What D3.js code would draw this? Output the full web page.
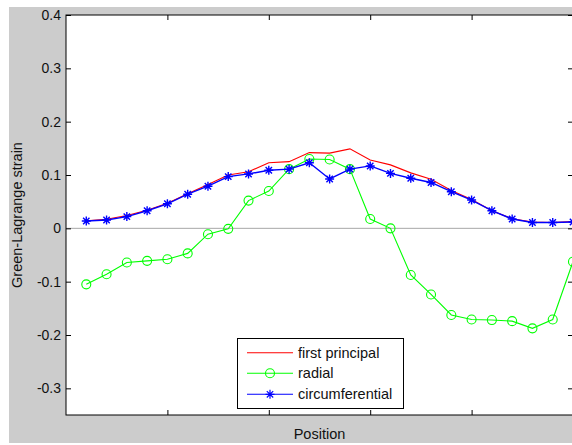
<!DOCTYPE html>
<html><head><meta charset="utf-8">
<script src="https://cdn.jsdelivr.net/npm/d3@7"></script>
<style>body{margin:0;background:#fff}text{font-family:"Liberation Sans",Arial,sans-serif}</style>
</head><body><svg id="c" width="572" height="445"></svg>
<script>
const positions = d3.range(1, 26);
const firstPrincipal = [0.014,0.017,0.024,0.034,0.047,0.065,0.082,0.100,0.106,0.123,0.125,0.142,0.141,0.149,0.128,0.119,0.104,0.092,0.071,0.054,0.033,0.018,0.012,0.011,0.013];
const radial = [-0.105,-0.086,-0.064,-0.061,-0.058,-0.047,-0.011,-0.001,0.052,0.070,0.111,0.130,0.129,0.111,0.0175,0.0,-0.0875,-0.124,-0.1625,-0.171,-0.172,-0.174,-0.1875,-0.171,-0.0625];
const circumferential = [0.0137,0.0156,0.022,0.033,0.046,0.064,0.079,0.097,0.102,0.109,0.111,0.123,0.0925,0.111,0.117,0.103,0.094,0.086,0.0687,0.053,0.033,0.0175,0.011,0.011,0.012];
const yTicks = [-0.3,-0.2,-0.1,0,0.1,0.2,0.3,0.4];
const yTickLabels = ["-0.3","-0.2","-0.1","0","0.1","0.2","0.3","0.4"];
const xTicks = [5,10,15,20];
const seriesNames = ["first principal","radial","circumferential"];
const seriesColors = ["#ff0000","#00ff00","#0000ff"];

const svg = d3.select("#c");
const L=66, R=573, T=15, B=415;
const x = d3.scaleLinear().domain([0,25]).range([L,R]);
const y = d3.scaleLinear().domain([-0.35,0.4]).range([B,T]);

svg.append("rect").attr("x",9).attr("y",7).attr("width",563).attr("height",436).attr("fill","#cccccc");
svg.append("rect").attr("x",L).attr("y",T).attr("width",R-L).attr("height",B-T).attr("fill","#fff");

// zero line
svg.append("line").attr("x1",x(0)).attr("x2",x(25)).attr("y1",y(0)).attr("y2",y(0)).attr("stroke","#a8a8a8").attr("stroke-width",1);

const line = d3.line().x((d,i)=>x(positions[i])).y(d=>y(d));
const starPath = "M-4.5,0L4.5,0M0,-4.5L0,4.5M-3.2,-3.2L3.2,3.2M-3.2,3.2L3.2,-3.2";

svg.append("path").datum(firstPrincipal).attr("d",line).attr("fill","none").attr("stroke",seriesColors[0]).attr("stroke-width",1.1);
svg.append("path").datum(radial).attr("d",line).attr("fill","none").attr("stroke",seriesColors[1]).attr("stroke-width",1.1);
svg.selectAll(".circ").data(radial).enter().append("circle").attr("cx",(d,i)=>x(positions[i])).attr("cy",d=>y(d)).attr("r",4.5).attr("fill","none").attr("stroke",seriesColors[1]).attr("stroke-width",1.1);
svg.append("path").datum(circumferential).attr("d",line).attr("fill","none").attr("stroke",seriesColors[2]).attr("stroke-width",1.4);
svg.selectAll(".star").data(circumferential).enter().append("path").attr("transform",(d,i)=>`translate(${x(positions[i])},${y(d)})`).attr("d",starPath).attr("stroke",seriesColors[2]).attr("stroke-width",1.4).attr("fill","none");

// axes
const ax = svg.append("g").attr("transform",`translate(${L},0)`).call(d3.axisLeft(y).tickValues(yTicks).tickFormat((d,i)=>yTickLabels[i]).tickSizeInner(-5).tickSizeOuter(0).tickPadding(5));
const ar = svg.append("g").attr("transform",`translate(${R},0)`).call(d3.axisRight(y).tickValues(yTicks).tickFormat("").tickSizeInner(-5).tickSizeOuter(0));
const ab = svg.append("g").attr("transform",`translate(0,${B})`).call(d3.axisBottom(x).tickValues(xTicks).tickFormat("").tickSizeInner(-5).tickSizeOuter(0));
const at = svg.append("g").attr("transform",`translate(0,${T})`).call(d3.axisTop(x).tickValues(xTicks).tickFormat("").tickSizeInner(-5).tickSizeOuter(0));
[ax,ar,ab,at].forEach(g=>{g.select(".domain").remove();g.selectAll("line").attr("stroke","#000");});
ax.selectAll("text").attr("font-size","14px").attr("fill","#111").style("font-family","Liberation Sans, Arial, sans-serif");
svg.append("rect").attr("x",L).attr("y",T).attr("width",R-L).attr("height",B-T).attr("fill","none").attr("stroke","#000").attr("stroke-width",1);

// labels
svg.append("text").attr("transform","translate(17,215) rotate(-90)").attr("text-anchor","middle").attr("dy","0.35em").attr("font-size","14.5px").attr("fill","#111").text("Green-Lagrange strain");
svg.append("text").attr("x",(L+R)/2).attr("y",438.5).attr("text-anchor","middle").attr("font-size","14.5px").attr("fill","#111").text("Position");

// legend
const lg = svg.append("g");
lg.append("rect").attr("x",237.5).attr("y",338.5).attr("width",166).attr("height",70).attr("fill","#fff").attr("stroke","#000");
const ly = [352.7,373.3,394.3];
seriesNames.forEach((n,i)=>{
  lg.append("line").attr("x1",247).attr("x2",293).attr("y1",ly[i]).attr("y2",ly[i]).attr("stroke",seriesColors[i]).attr("stroke-width",1.1);
  if(i===1) lg.append("circle").attr("cx",270).attr("cy",ly[i]).attr("r",4.5).attr("fill","none").attr("stroke",seriesColors[i]).attr("stroke-width",1.1);
  if(i===2) lg.append("path").attr("transform",`translate(270,${ly[i]})`).attr("d",starPath).attr("stroke",seriesColors[i]).attr("stroke-width",1.2).attr("fill","none");
  lg.append("text").attr("x",298).attr("y",ly[i]).attr("dy","0.35em").attr("font-size","14.5px").attr("fill","#111").text(n);
});
</script></body></html>
